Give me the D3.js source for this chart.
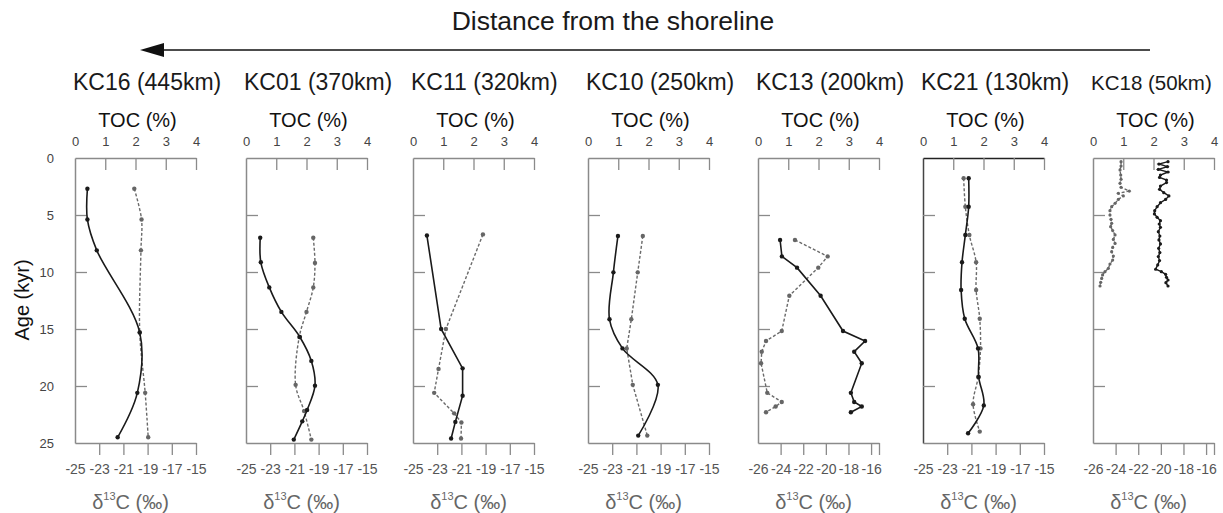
<!DOCTYPE html>
<html><head><meta charset="utf-8">
<script src="https://cdn.jsdelivr.net/npm/d3@7"></script>
<style>
body{margin:0;background:#fff}
svg{display:block}
text{font-family:"Liberation Sans",Arial,Helvetica,sans-serif}
</style>
</head><body>
<svg id="chart" width="1223" height="513"></svg>
<script>
// ---------- data ----------
const panelTitles = ["KC16 (445km)","KC01 (370km)","KC11 (320km)","KC10 (250km)","KC13 (200km)","KC21 (130km)","KC18 (50km)"];
const tocTicks = [0,1,2,3,4];
const ageTicks = [0,5,10,15,20,25];
const d13cTicksA = [-25,-23,-21,-19,-17,-15];
const d13cTicksB = [-26,-24,-22,-20,-18,-16];

const kc16Age  = [2.7,5.4,8.1,15.3,20.6,24.5];
const kc16TOC  = [0.41,0.41,0.72,2.14,2.06,1.41];
const kc16D13C = [-20.1,-19.5,-19.55,-19.65,-19.2,-18.95];

const kc01AgeTOC  = [7.0,9.15,11.35,13.5,15.7,17.8,19.97,22.1,23.1,24.7];
const kc01TOC     = [0.47,0.49,0.77,1.17,1.78,2.16,2.28,2.02,1.86,1.58];
const kc01AgeD13C = [7.0,9.2,11.35,13.5,15.7,19.9,22.2,24.7];
const kc01D13C    = [-19.44,-19.3,-19.44,-20.0,-20.6,-20.9,-20.2,-19.6];

const kc11AgeTOC  = [6.8,15.0,18.45,20.85,23.15,24.6];
const kc11TOC     = [0.46,0.93,1.64,1.64,1.4,1.26];
const kc11AgeD13C = [6.7,15.0,18.5,20.6,22.4,23.2,24.6];
const kc11D13C    = [-19.22,-22.28,-22.89,-23.25,-21.6,-21.0,-21.03];

const kc10Age  = [6.84,10.03,14.15,16.7,19.9,24.35];
const kc10TOC  = [0.99,0.84,0.71,1.14,2.31,1.66];
const kc10D13C = [-20.47,-20.89,-21.42,-21.8,-21.3,-20.1];

const kc13Age  = [7.19,8.63,9.62,12.08,15.18,16.05,16.99,18.0,20.6,21.4,21.8,22.3];
const kc13TOC  = [0.73,0.79,1.29,2.07,2.81,3.54,3.18,3.43,3.07,3.18,3.43,3.07];
const kc13D13C = [-22.73,-19.84,-20.67,-23.23,-23.9,-25.29,-25.67,-25.73,-25.18,-23.9,-24.44,-25.29];

const kc21AgeTOC  = [1.78,4.27,6.75,9.15,11.58,14.1,16.7,19.2,21.7,24.15];
const kc21TOC     = [1.51,1.51,1.4,1.29,1.26,1.38,1.82,1.84,2.01,1.49];
const kc21AgeD13C = [1.78,4.27,6.75,9.15,11.58,14.1,16.7,19.2,21.6,24.0];
const kc21D13C    = [-21.64,-21.5,-21.17,-20.61,-20.61,-20.31,-20.25,-20.44,-20.86,-20.31];

const kc18AgeTOC = [0.32,0.53,0.76,1.00,1.23,1.49,1.70,1.93,2.16,2.46,2.75,3.04,3.33,3.63,3.92,4.27,4.62,4.91,5.20,5.50,5.79,6.08,6.46,6.84,7.19,7.54,7.92,8.30,8.65,9.00,9.38,9.76,9.97,10.20,10.47,10.70,10.94,11.23];
const kc18TOC    = [2.48,2.18,2.46,2.16,2.48,2.23,2.20,2.43,2.43,2.23,2.20,2.34,2.51,2.40,2.23,2.12,2.04,2.03,2.12,2.23,2.19,2.23,2.16,2.21,2.18,2.23,2.17,2.21,2.16,2.20,2.14,2.07,2.26,2.40,2.43,2.48,2.41,2.48];
const kc18AgeD13C = [0.32,0.70,1.05,1.49,1.87,2.22,2.57,2.90,3.10,3.33,3.63,3.98,4.27,4.62,5.00,5.38,5.73,6.02,6.37,6.75,7.14,7.49,7.84,8.22,8.60,8.95,9.30,9.68,9.97,10.26,10.56,10.91,11.23];
const kc18D13C    = [-23.52,-23.52,-23.61,-23.55,-23.52,-23.61,-23.52,-22.79,-23.76,-23.32,-23.76,-24.05,-24.35,-24.5,-24.5,-24.41,-24.35,-24.44,-24.26,-24.05,-24.2,-24.05,-24.26,-24.35,-24.2,-24.26,-24.5,-24.64,-24.94,-25.15,-25.23,-25.32,-25.38];

// ---------- layout ----------
const panelLefts = [75,246,413,588,758,923,1093];
const panelW = 121, yTop = 158, yBot = 443;
const zip = (a,b) => a.map((v,i)=>({age:v, val:b[i]}));

const panels = [
  {toc:zip(kc16Age,kc16TOC), d:zip(kc16Age,kc16D13C), dom:[-25,-15], ticks:d13cTicksA, smoothT:true, smoothD:true, r:2.2},
  {toc:zip(kc01AgeTOC,kc01TOC), d:zip(kc01AgeD13C,kc01D13C), dom:[-25,-15], ticks:d13cTicksA, smoothT:true, smoothD:true, r:2.2},
  {toc:zip(kc11AgeTOC,kc11TOC), d:zip(kc11AgeD13C,kc11D13C), dom:[-25,-15], ticks:d13cTicksA, smoothT:false, smoothD:false, r:2.2},
  {toc:zip(kc10Age,kc10TOC), d:zip(kc10Age,kc10D13C), dom:[-25,-15], ticks:d13cTicksA, smoothT:true, smoothD:false, r:2.2},
  {toc:zip(kc13Age,kc13TOC), d:zip(kc13Age,kc13D13C), dom:[-26,-15.3], ticks:d13cTicksB, smoothT:false, smoothD:false, r:2.2},
  {toc:zip(kc21AgeTOC,kc21TOC), d:zip(kc21AgeD13C,kc21D13C), dom:[-25,-15], ticks:d13cTicksA, smoothT:true, smoothD:true, r:2.2},
  {toc:zip(kc18AgeTOC,kc18TOC), d:zip(kc18AgeD13C,kc18D13C), dom:[-26,-15.3], ticks:d13cTicksB, smoothT:false, smoothD:false, r:1.6}
];

const svg = d3.select("#chart");
const axisCol = "#8a8a8a";

// header
svg.append("text").attr("x",613).attr("y",30).attr("text-anchor","middle")
  .attr("font-size",26.5).attr("fill","#1a1a1a").text("Distance from the shoreline");
svg.append("line").attr("x1",1150).attr("x2",158).attr("y1",50).attr("y2",50)
  .attr("stroke","#111").attr("stroke-width",1.6);
svg.append("path").attr("d","M140,50 L164,43 L164,57 Z").attr("fill","#111");

// age axis label
svg.append("text").attr("transform","translate(29,300) rotate(-90)").attr("text-anchor","middle")
  .attr("font-size",20).attr("fill","#111").text("Age (kyr)");

const y = d3.scaleLinear().domain([0,25]).range([yTop,yBot]);

panels.forEach((p,i)=>{
  const x0 = panelLefts[i];
  const xT = d3.scaleLinear().domain([0,4]).range([x0,x0+panelW]);
  const xD = d3.scaleLinear().domain(p.dom).range([x0,x0+panelW]);
  const g = svg.append("g");

  // title
  g.append("text").attr("x",x0-2).attr("y",90).attr("font-size",i===6 ? 20.5 : 23).attr("fill","#1a1a1a").text(panelTitles[i]);
  g.append("text").attr("x",x0+panelW/2+2).attr("y",127).attr("text-anchor","middle")
    .attr("font-size",20).attr("fill","#111").text("TOC (%)");

  // top axis
  const ta = g.append("g").attr("transform",`translate(0,${yTop})`)
    .call(d3.axisTop(xT).tickValues(tocTicks).tickSizeInner(-12).tickSizeOuter(0).tickPadding(12).tickFormat(d3.format("d")));
  // left axis
  const la = g.append("g").attr("transform",`translate(${x0},0)`)
    .call(d3.axisLeft(y).tickValues(ageTicks).tickSizeInner(-12).tickSizeOuter(0).tickPadding(21)
      .tickFormat(i===0 ? d3.format("d") : ()=>""));
  // bottom axis
  const bt = p.ticks.concat(p.dom[1] !== p.ticks[p.ticks.length-1] ? [p.dom[1]] : []);
  const ba = g.append("g").attr("transform",`translate(0,${yBot})`)
    .call(d3.axisBottom(xD).tickValues(bt).tickSizeInner(12).tickSizeOuter(0).tickPadding(9)
      .tickFormat(d => p.ticks.includes(d) ? String(d) : ""));
  ba.selectAll(".tick line").filter(d => d === p.dom[0]).remove();

  [ta,la,ba].forEach(a=>{
    a.select(".domain").attr("stroke", axisCol).attr("stroke-width",1.5);
    a.selectAll(".tick line").attr("stroke",axisCol).attr("stroke-width",1.3);
    a.selectAll("text").attr("font-family",'"Liberation Sans",Arial,sans-serif').attr("fill","#444");
  });
  if (i===5) { ta.select(".domain").attr("stroke","#222"); la.select(".domain").attr("stroke","#444"); }
  ta.selectAll("text").attr("font-size",13);
  la.selectAll("text").attr("font-size",13);
  ba.selectAll("text").attr("font-size",14).attr("fill","#555");
  la.selectAll(".tick line").filter(d => d===0 || d===25).remove();
  ta.selectAll(".tick line").filter(d => d===0).remove();

  // bottom label
  const bl = g.append("text").attr("x",x0+panelW/2-5).attr("y",509).attr("text-anchor","middle")
    .attr("font-size",20).attr("fill","#666");
  bl.append("tspan").text("δ");
  bl.append("tspan").attr("font-size",11).attr("dy",-9).text("13");
  bl.append("tspan").attr("dy",9).text("C (‰)");

  // series: δ13C dashed gray
  const lineD = d3.line().x(d=>xD(d.val)).y(d=>y(d.age))
    .curve(p.smoothD ? d3.curveCatmullRom.alpha(0.5) : d3.curveLinear);
  g.append("path").datum(p.d).attr("d",lineD).attr("fill","none")
    .attr("stroke","#6a6a6a").attr("stroke-width",1.4).attr("stroke-dasharray","3,2");
  g.selectAll(".dd").data(p.d).enter().append("circle")
    .attr("cx",d=>xD(d.val)).attr("cy",d=>y(d.age)).attr("r",p.r).attr("fill","#666");

  // series: TOC solid black
  const lineT = d3.line().x(d=>xT(d.val)).y(d=>y(d.age))
    .curve(p.smoothT ? d3.curveCatmullRom.alpha(0.5) : d3.curveLinear);
  g.append("path").datum(p.toc).attr("d",lineT).attr("fill","none")
    .attr("stroke","#1a1a1a").attr("stroke-width",i===6 ? 1.4 : 1.6);
  g.selectAll(".tt").data(p.toc).enter().append("circle")
    .attr("cx",d=>xT(d.val)).attr("cy",d=>y(d.age)).attr("r",p.r).attr("fill","#1a1a1a");
});
</script>
</body></html>
